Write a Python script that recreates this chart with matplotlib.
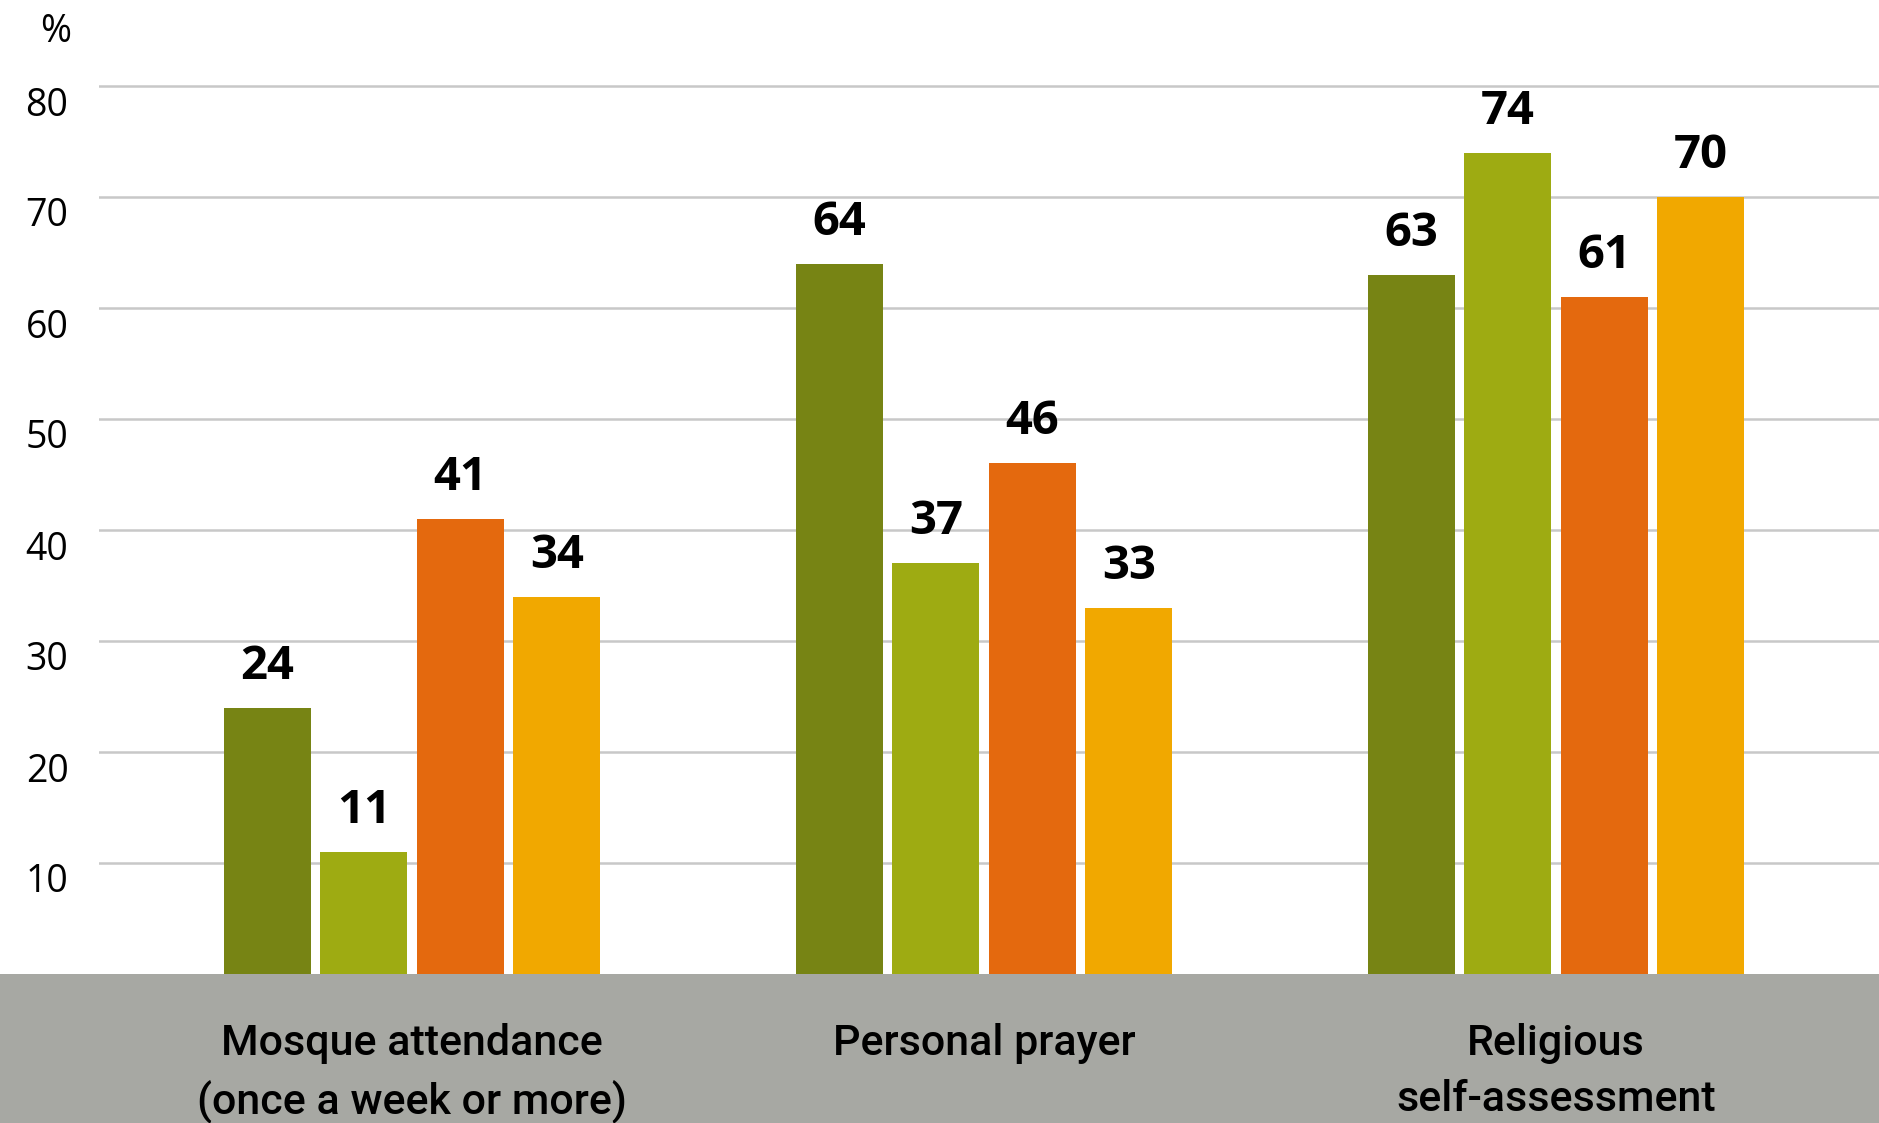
import matplotlib
matplotlib.use("Agg")
import matplotlib.pyplot as plt
import matplotlib.transforms as mtransforms
from matplotlib.patches import Rectangle
import numpy as np

categories = ["Mosque attendance\n(once a week or more)", "Personal prayer", "Religious\nself-assessment"]
series_a = [24, 64, 63]
series_b = [11, 37, 74]
series_c = [41, 46, 61]
series_d = [34, 33, 70]
yticks = [10, 20, 30, 40, 50, 60, 70, 80]
colors = ["#778414", "#9eab12", "#e4690e", "#f1a800"]

W, H = 1879, 1123
fig = plt.figure(figsize=(W / 100, H / 100), dpi=100)
fig.patch.set_facecolor("white")

# gray band at the bottom
fig.patches.append(Rectangle((0, 0), 1, (H - 974) / H, transform=fig.transFigure,
                             facecolor="#a7a8a3", edgecolor="none", zorder=-5))

ax_left = 99 / W
ax_bottom = (H - 974) / H
ax_top = (H - 50) / H
ax = fig.add_axes([ax_left, ax_bottom, 1 - ax_left, ax_top - ax_bottom])
ax.set_facecolor("none")
ax.set_zorder(2)

px_per_unit = 111.0 / 10
ax.set_ylim(0, (974 - 50) / px_per_unit)
group_px = 572.0
ax.set_xlim((99 - 412) / group_px, (W - 412) / group_px)

x = np.arange(len(categories))
width = 87 / group_px
pitch = 96.5 / group_px
all_series = [series_a, series_b, series_c, series_d]
for i, (vals, col) in enumerate(zip(all_series, colors)):
    xs = x + (i - 1.5) * pitch
    ax.bar(xs, vals, width=width, color=col, zorder=3)
    for xi, v in zip(xs, vals):
        ax.annotate(str(v), (xi, v), xytext=(0, 13), textcoords="offset points",
                    ha="center", va="bottom", fontsize=34, fontweight="bold",
                    family=["Open Sans", "DejaVu Sans"], color="black", zorder=4)

ax.set_yticks(yticks)
ax.yaxis.grid(True, color="#c8c8c8", linewidth=1.8, zorder=0)
ax.set_axisbelow(True)
ax.tick_params(axis="y", length=0, pad=22, labelsize=27)
ax.set_yticklabels([str(t) for t in yticks], family=["Open Sans", "DejaVu Sans"])
offset = mtransforms.ScaledTranslation(0, -15 / 100, fig.dpi_scale_trans)
for lab in ax.get_yticklabels():
    lab.set_transform(lab.get_transform() + offset)

ax.set_xticks(x)
ax.set_xticklabels(categories, fontsize=31, fontweight="medium",
                   family=["Roboto", "DejaVu Sans"], linespacing=1.45)
ax.tick_params(axis="x", length=0, pad=35.5)
for s in ax.spines.values():
    s.set_visible(False)

fig.text(71 / W, 1 - 32 / H, "%", ha="right", va="center", fontsize=27,
         family=["Open Sans", "DejaVu Sans"])

fig.savefig("out.png", dpi=100)
